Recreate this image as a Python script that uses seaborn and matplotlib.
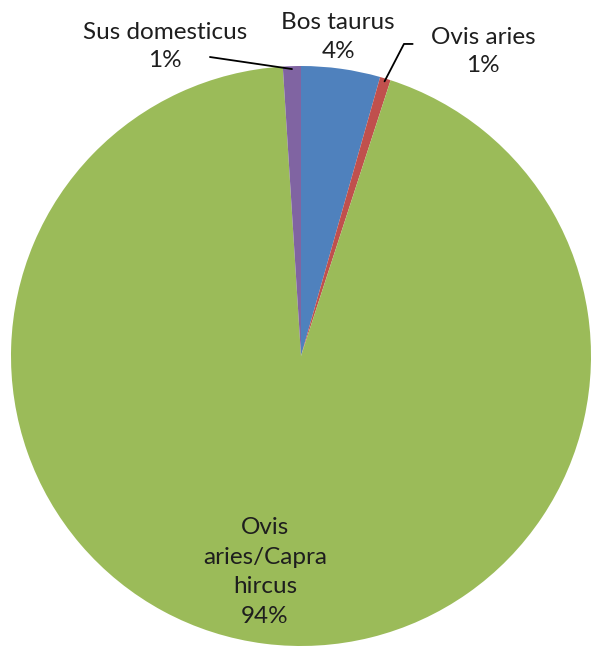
import numpy as np
import matplotlib
matplotlib.use("Agg")
import matplotlib.pyplot as plt
import seaborn as sns

categories = ["Bos taurus", "Ovis aries", "Ovis\naries/Capra\nhircus", "Sus domesticus"]
values = [4.4, 0.6, 94.0, 1.0]
colors = ["#4F81BD", "#C0504D", "#9BBB59", "#8064A2"]

sns.set_theme(style="white")
plt.rcParams['font.family'] = ['Lato', 'DejaVu Sans']

fig = plt.figure(figsize=(5.91, 6.52), dpi=100)
ax = fig.add_axes([11/591, 6/652, 580/591, 580/652])
wedges, _ = ax.pie(values, colors=colors, startangle=90, counterclock=False,
                   radius=1.0, wedgeprops=dict(linewidth=0))
ax.set_xlim(-1, 1)
ax.set_ylim(-1, 1)
ax.set_aspect('equal')
ax.axis('off')

total = sum(values)
pct = [f"{round(v / total * 100):.0f}%" for v in values]
fs = 17.5
tc = "#1e1e1e"

def mid_point(w, r=1.0):
    a = np.deg2rad((w.theta1 + w.theta2) / 2)
    return r * np.cos(a), r * np.sin(a)

# Bos taurus
ax.text(0.128, 1.10, f"{categories[0]}\n{pct[0]}", ha='center', va='center',
        fontsize=fs, color=tc, linespacing=1.42, clip_on=False)
# Ovis aries
ax.text(0.628, 1.05, f"{categories[1]}\n{pct[1]}", ha='center', va='center',
        fontsize=fs, color=tc, linespacing=1.42, clip_on=False)
x0, y0 = mid_point(wedges[1], 0.99)
ax.plot([x0, 0.355, 0.385], [y0, 1.076, 1.076], color='black', lw=1.3, clip_on=False)
# Sus domesticus
ax.text(-0.469, 1.066, f"{categories[3]}\n{pct[3]}", ha='center', va='center',
        fontsize=fs, color=tc, linespacing=1.42, clip_on=False)
x1, y1 = mid_point(wedges[3], 0.99)
ax.plot([x1, -0.314], [y1, 1.031], color='black', lw=1.3, clip_on=False)
# Green
ax.text(-0.124, -0.745, f"{categories[2]}\n{pct[2]}", ha='center', va='center',
        fontsize=fs, color=tc, linespacing=1.5, clip_on=False)

fig.savefig("out.png", dpi=100, facecolor='white')
